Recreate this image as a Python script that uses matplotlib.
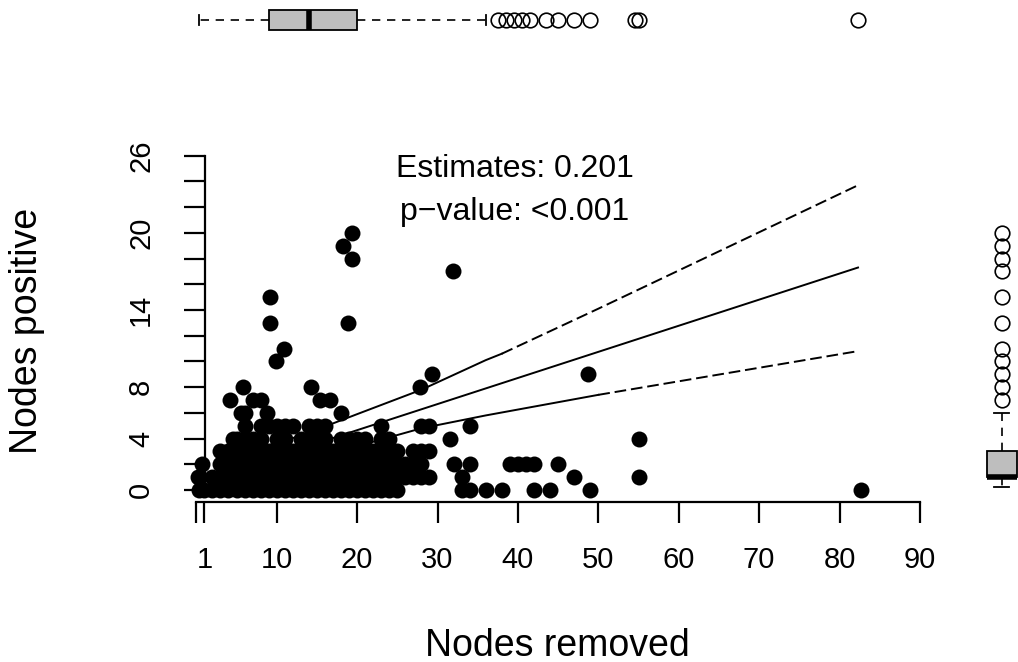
import numpy as np
import matplotlib.pyplot as plt

plt.rcParams['font.family'] = ['Liberation Sans', 'DejaVu Sans']

# scatter rows: x values (nodes removed) for each count of positive nodes
row0 = [0.3, 1, 2, 3, 4, 5, 6, 7, 8, 9, 10, 11, 12, 13, 14, 15, 16, 17, 18, 19, 20, 21,
        22, 23, 24, 25, 33, 34, 36, 38, 42, 44, 49, 82.7]
row1 = [0.2, 2, 3, 4, 5, 6, 7, 8, 9, 10, 11, 12, 13, 14, 15, 16, 17, 18, 19, 20, 21, 22,
        23, 24, 25, 26, 27, 28, 29, 33, 47, 55]
row2 = [0.7, 3, 4, 5, 6, 7, 8, 9, 10, 11, 12, 13, 14, 15, 16, 17, 18, 19, 20, 21, 22, 23,
        24, 25, 26, 27, 28, 32, 34, 39, 40, 41, 42, 45]
row3 = [3, 4, 5, 6, 7, 8, 9, 10, 11, 12, 13, 14, 15, 16, 17, 18, 19, 20, 21, 22, 23, 24,
        25, 27, 28, 29]
row4 = [4.5, 5, 6, 7, 8, 10, 11, 13, 14, 15, 16, 18, 19, 20, 21, 23, 24, 31.5, 55]
row5 = [6, 8, 9, 10, 11, 12, 14, 15, 16, 23, 28, 29, 34]
row6 = [5.5, 6, 8.8, 18]
row7 = [4.2, 7, 8, 15.4, 16.6]
row8 = [5.8, 14.3, 27.8]
row9 = [29.3, 48.7]
row10 = [9.9]
row11 = [10.9]
row13 = [9.2, 18.9]
row15 = [9.2]
row17 = [31.9]
row18 = [19.4]
row19 = [18.2]
row20 = [19.4]

rows = {0: row0, 1: row1, 2: row2, 3: row3, 4: row4, 5: row5, 6: row6, 7: row7, 8: row8,
        9: row9, 10: row10, 11: row11, 13: row13, 15: row15, 17: row17, 18: row18,
        19: row19, 20: row20}

nodes_removed = []
nodes_positive = []
for yv, xs in rows.items():
    nodes_removed += xs
    nodes_positive += [yv] * len(xs)

# regression line and confidence band
fit_x = [2.3, 82.3]
fit_y = [1.06, 17.3]
upper_x = [2.3, 10, 15, 20, 28, 36, 38, 50, 82.3]
upper_y = [2.8, 3.6, 4.7, 5.9, 7.8, 10.1, 10.6, 14.1, 23.7]
upper_break = 6
lower_x = [4, 10, 15, 20, 28, 36, 50, 82.3]
lower_y = [0.3, 1.6, 2.7, 3.4, 4.8, 5.8, 7.4, 10.8]
lower_break = 6

# marginal boxplot summaries
top_box = dict(whislo=0.3, q1=9, med=14, q3=20, whishi=36,
               fliers=[37.5, 38.5, 39.5, 40.5, 41.5, 43.5, 45, 47, 49, 54.5, 55, 82.3])
right_box = dict(whislo=0.25, q1=1, med=1, q3=3, whishi=6,
                 fliers=[7, 8, 9, 10, 11, 13, 15, 17, 18, 19, 20])

x_ticks = [0, 1, 10, 20, 30, 40, 50, 60, 70, 80, 90]
x_labels = ['', '1', '10', '20', '30', '40', '50', '60', '70', '80', '90']
y_ticks = [0, 2, 4, 6, 8, 10, 12, 14, 16, 18, 20, 22, 24, 26]
y_labels = ['0', '', '4', '', '8', '', '', '14', '', '', '20', '', '', '26']

W, H = 1018, 662
fig = plt.figure(figsize=(W / 100, H / 100), dpi=100)

xlim = (-1, 92)
ylim = (-1.5, 27)
# pixel placement of the main panel
px_left, px_right = 188.3, 936.0
px_top, px_bottom = 142.8, 509.3
main_rect = [px_left / W, 1 - px_bottom / H, (px_right - px_left) / W, (px_bottom - px_top) / H]

ax = fig.add_axes(main_rect)
ax.set_xlim(*xlim)
ax.set_ylim(*ylim)

ax.plot(nodes_removed, nodes_positive, 'o', color='black', markersize=11.5,
        markeredgewidth=0, clip_on=False, zorder=3)

lw = 1.4
ax.plot(fit_x, fit_y, color='black', lw=lw, zorder=2)
dash = (0, (6, 2.5))
ax.plot(upper_x[:upper_break + 1], upper_y[:upper_break + 1], color='black', lw=lw, zorder=2)
ax.plot(upper_x[upper_break:], upper_y[upper_break:], color='black', lw=lw, ls=dash, zorder=2)
ax.plot(lower_x[:lower_break + 1], lower_y[:lower_break + 1], color='black', lw=lw, zorder=2)
ax.plot(lower_x[lower_break:], lower_y[lower_break:], color='black', lw=lw, ls=dash, zorder=2)

ax.text(39.6, 24.36, 'Estimates: 0.201', fontsize=23, ha='center', va='baseline')
ax.text(39.6, 21.0, 'p\u2212value: <0.001', fontsize=23, ha='center', va='baseline')

for s in ['top', 'right']:
    ax.spines[s].set_visible(False)
ax.spines['bottom'].set_position(('data', -0.93))
ax.spines['bottom'].set_bounds(0, 90)
ax.spines['left'].set_position(('data', 1.08))
ax.spines['left'].set_bounds(0, 26)
for s in ['bottom', 'left']:
    ax.spines[s].set_linewidth(1.6)

ax.set_xticks(x_ticks)
ax.set_xticklabels(x_labels)
ax.set_yticks(y_ticks)
ax.set_yticklabels(y_labels, rotation=90, va='center')
ax.tick_params(axis='both', direction='out', length=15, width=1.6, labelsize=21)
ax.tick_params(axis='x', pad=17)
ax.tick_params(axis='y', pad=21)

fig.text(557 / W, 1 - 656 / H, 'Nodes removed', fontsize=27, ha='center', va='baseline')
fig.text(27 / W, 1 - 331 / H, 'Nodes positive', fontsize=27, rotation=90,
         ha='center', va='center')

box_kw = dict(patch_artist=True, manage_ticks=False,
              boxprops=dict(facecolor='#bebebe', edgecolor='black', linewidth=1.3),
              medianprops=dict(color='black', linewidth=4, solid_capstyle='butt'),
              whiskerprops=dict(color='black', linestyle=(0, (5, 4)), linewidth=1.2),
              capprops=dict(color='black', linewidth=1.3),
              flierprops=dict(marker='o', markerfacecolor='none', markeredgecolor='black',
                              markersize=10.5, markeredgewidth=1.2))

# top marginal boxplot (nodes removed)
ax_top = fig.add_axes([main_rect[0], 1 - 40 / H, main_rect[2], 40 / H])
ax_top.set_xlim(*xlim)
ax_top.set_ylim(-1, 1)
ax_top.bxp([top_box], positions=[0], widths=[1.0], orientation='horizontal', **box_kw)
ax_top.axis('off')

# right marginal boxplot (nodes positive)
ax_right = fig.add_axes([962 / W, main_rect[1], 56 / W, main_rect[3]])
ax_right.set_xlim(-1.323, 0.544)
ax_right.set_ylim(*ylim)
ax_right.bxp([right_box], positions=[0], widths=[1.0], orientation='vertical', **box_kw)
ax_right.axis('off')

fig.savefig('out.png', dpi=100)
